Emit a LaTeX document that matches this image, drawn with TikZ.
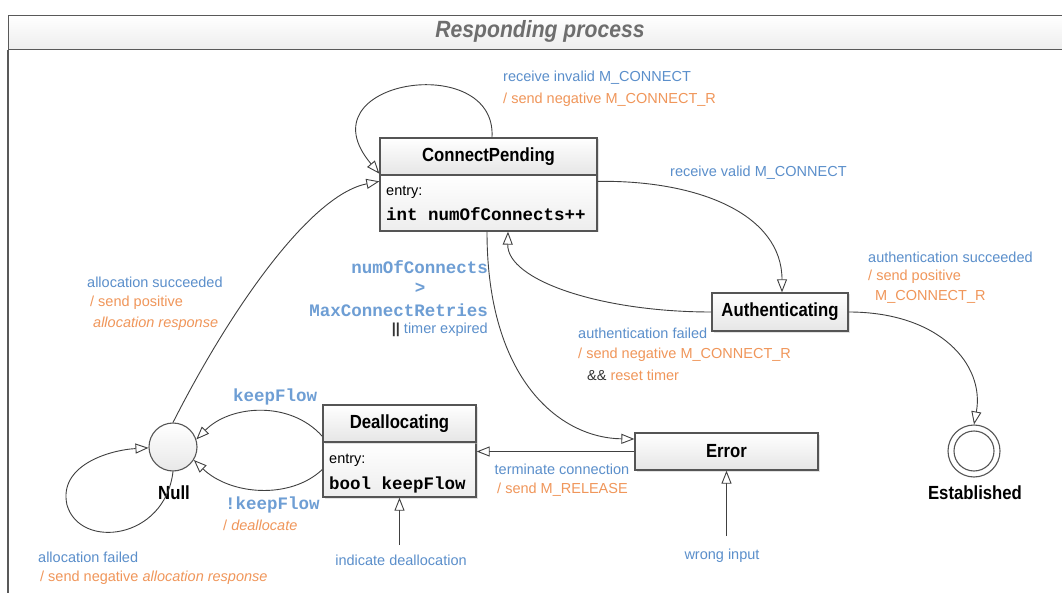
\documentclass[tikz,border=0pt]{standalone}
\usepackage{fontspec}
\setmainfont{Liberation Sans}
\newfontfamily\statefont[FakeStretch=0.88]{Liberation Sans}
\newfontfamily\titlefont[FakeStretch=0.9]{Liberation Sans}
\newfontfamily\monof{Liberation Mono}
\usetikzlibrary{arrows.meta,shadows}
\definecolor{lblue}{RGB}{91,143,203}
\definecolor{mblue}{RGB}{110,158,212}
\definecolor{lorange}{RGB}{240,150,90}
\definecolor{bord}{RGB}{85,85,85}
\definecolor{ttl}{RGB}{110,110,110}
\begin{document}
\begin{tikzpicture}[x=1pt,y=-1pt,
  boxbase/.style={draw=bord, line width=1.3pt, inner sep=0pt,
    drop shadow={shadow xshift=1.5pt, shadow yshift=-1.5pt, fill=gray!45}},
  hdr/.style={boxbase, top color=white, bottom color=gray!20,
    font=\statefont\bfseries\fontsize{19}{22}\selectfont},
  bodyb/.style={boxbase, top color=white, bottom color=gray!14},
  entrytxt/.style={anchor=west, inner sep=0pt, font=\fontsize{14.5}{17}\selectfont},
  codetxt/.style={anchor=west, inner sep=0pt, font=\monof\bfseries\fontsize{17.5}{20}\selectfont},
  lbl/.style={inner sep=0pt, text=lblue, font=\fontsize{14.5}{17}\selectfont},
  olbl/.style={inner sep=0pt, text=lorange, font=\fontsize{14.5}{17}\selectfont},
  mlbl/.style={inner sep=0pt, text=mblue, font=\monof\bfseries\fontsize{17.5}{20}\selectfont},
  sname/.style={inner sep=0pt, font=\statefont\bfseries\fontsize{19}{22}\selectfont},
  tr/.style={draw=black!75, line width=0.9pt, -{Triangle[open, length=13pt, width=10pt, fill=white]}}]
\useasboundingbox (0,0) rectangle (1062,593);
\fill[white] (0,0) rectangle (1062,593);
% frame
\node[draw=gray!70!black, line width=1.4pt, top color=white, bottom color=gray!14,
  minimum width=1060pt, minimum height=34pt, anchor=north west, inner sep=0pt] (title) at (8,15) {};
\node[text=ttl, font=\titlefont\bfseries\itshape\fontsize{23.5}{27}\selectfont] (ttext) at (540,31) {Responding process};
\coordinate (fb) at (8,593);
\draw[gray!70!black, line width=1.4pt] (title.south west) -- (fb);

% ConnectPending
\node[bodyb, minimum width=217pt, minimum height=56pt] (cpb) at (488.5,203) {};
\node[hdr, minimum width=217pt, minimum height=37pt] (cph) at (488.5,156.5) {ConnectPending};
\node[entrytxt] (cpe) at (386,192) {entry:};
\node[codetxt] (cpc) at (386,214) {int numOfConnects++};

% Authenticating
\node[hdr, minimum width=136pt, minimum height=38pt] (auth) at (780,312) {Authenticating};

% Deallocating
\node[bodyb, minimum width=153pt, minimum height=55pt] (deb) at (399.5,469.5) {};
\node[hdr, minimum width=153pt, minimum height=37pt] (deh) at (399.5,423.5) {Deallocating};
\node[entrytxt] (dee) at (329,460) {entry:};
\node[codetxt] (dec) at (329,485) {bool keepFlow};

% Error
\node[hdr, minimum width=183pt, minimum height=37pt] (err) at (726.5,451.5) {Error};

% Null
\node[circle, draw=bord, line width=1.1pt, top color=white, bottom color=gray!18,
  minimum size=48pt, inner sep=0pt] (null) at (173,447) {};
\node[sname] (nulll) at (174,493) {Null};

% Established
\node[circle, draw=bord, line width=1.1pt, fill=white, minimum size=52pt, inner sep=0pt] (est) at (974,451) {};
\node[circle, draw=bord, line width=1.1pt, minimum size=40pt, inner sep=0pt] (esti) at (974,451) {};
\node[sname] (estl) at (975,493) {Established};

% connectors
\draw[tr] ([xshift=3.5pt]cph.north) .. controls (497,50) and (300,80) .. ([yshift=2pt]cph.south west);
\draw[tr] (null.north) .. controls (230,310) and (310,195) .. ([yshift=-7pt]cpb.north west);
\draw[tr] ([yshift=-7pt]cpb.north east) .. controls (700,180) and (782,215) .. ([xshift=2pt]auth.north);
\draw[tr] (auth.west) .. controls (600,312) and (507,280) .. ([xshift=19.5pt]cpb.south);
\draw[tr] (auth.east) .. controls (940,312) and (985,365) .. (est.north);
\draw[tr] ([xshift=-1.5pt]cpb.south) .. controls (487,380) and (560,438) .. ([yshift=12.5pt]err.west);
\draw[tr] (err.west) -- (err.west -| deb.east);
\draw[tr] ([yshift=5pt]deb.north west) .. controls (290,400) and (230,405) .. (null.18);
\draw[tr] (deb.west) .. controls (290,500) and (230,495) .. (null.-32);
\draw[tr] (null.south) .. controls (165,540) and (80,550) .. (67,505) .. controls (58,465) and (110,450) .. (null.182);
\coordinate (ind) at (399.5,545);
\draw[tr] (ind) -- (deb.south);
\coordinate (wi) at (726.5,536);
\draw[tr] (wi) -- (err.south);

% labels
\node[lbl, anchor=west] (l1a) at (503,78) {receive invalid M\_CONNECT};
\node[olbl, anchor=west] (l1b) at (503,100) {/ send negative M\_CONNECT\_R};
\node[lbl, anchor=west] (l2) at (670,173) {receive valid M\_CONNECT};
\node[lbl, anchor=west] (l3a) at (868,257) {authentication succeeded};
\node[olbl, anchor=west] (l3b) at (868,277) {/ send positive};
\node[olbl, anchor=west] (l3c) at (875,297) {M\_CONNECT\_R};
\node[lbl, anchor=west] (l4a) at (578,333) {authentication failed};
\node[olbl, anchor=west] (l4b) at (578,355) {/ send negative M\_CONNECT\_R};
\node[olbl, anchor=west] (l4c) at (587,375) {\textcolor{black!80}{\&\&} reset timer};
\node[mlbl, anchor=east] (l5a) at (488,267) {numOfConnects};
\node[mlbl] (l5b) at (420,288) {>};
\node[mlbl, anchor=east] (l5c) at (488,310) {MaxConnectRetries};
\node[lbl, anchor=east] (l5d) at (488,330) {\textcolor{black!80}{\bfseries||} timer expired};
\node[lbl, anchor=west] (l6a) at (87,282) {allocation succeeded};
\node[olbl, anchor=west] (l6b) at (90,303) {/ send positive};
\node[olbl, anchor=west] (l6c) at (93,324) {\itshape allocation response};
\node[mlbl, anchor=west] (l7) at (233,397) {keepFlow};
\node[mlbl, anchor=west] (l8a) at (225,505) {!keepFlow};
\node[olbl, anchor=west] (l8b) at (223,525) {/ \textit{deallocate}};
\node[lbl] (l9a) at (562,469) {terminate connection};
\node[olbl, anchor=west] (l9b) at (497,490) {/ send M\_RELEASE};
\node[lbl] (l10) at (401,560) {indicate deallocation};
\node[lbl] (l11) at (722,556) {wrong input};
\node[lbl, anchor=west] (l12a) at (38,557) {allocation failed};
\node[olbl, anchor=west] (l12b) at (40,578) {/ send negative \textit{allocation response}};
\end{tikzpicture}
\end{document}
